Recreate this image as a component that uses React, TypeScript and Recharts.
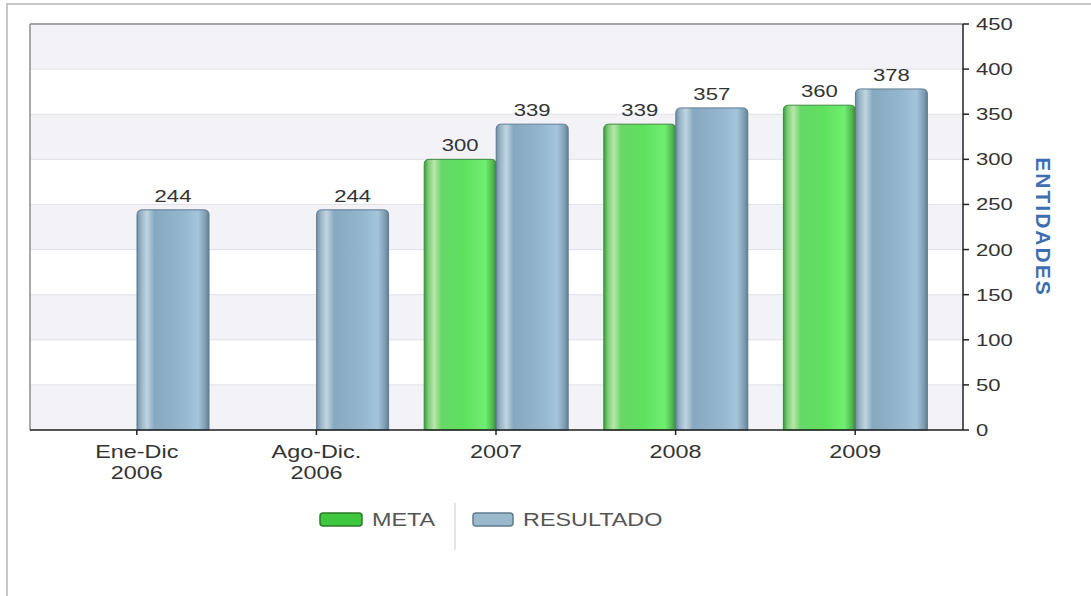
import React from 'react';
import { BarChart, Bar, XAxis, YAxis, CartesianGrid, Legend, LabelList, ReferenceLine } from 'recharts';

const categories = ['Ene-Dic\n2006', 'Ago-Dic.\n2006', '2007', '2008', '2009'];
const metaValues: (number | null)[] = [null, null, 300, 339, 360];
const resultadoValues = [244, 244, 339, 357, 378];
const yTicks = [0, 50, 100, 150, 200, 250, 300, 350, 400, 450];
const seriesNames = { meta: 'META', resultado: 'RESULTADO' };

const data = categories.map((c, i) => ({ category: c, meta: metaValues[i], resultado: resultadoValues[i] }));

const FONT = '"Liberation Sans", Arial, sans-serif';
const SX = 1.3;

const SText = ({ x, y, children, sx = SX, ...rest }: any) => (
  <g transform={`translate(${x},${y}) scale(${sx},1)`}>
    <text x={0} y={0} fontFamily={FONT} {...rest}>{children}</text>
  </g>
);

const makeShape = (gradId: string, stroke: string) => (props: any) => {
  const { x, y, width, height } = props;
  if (height == null || !(height > 0)) return null;
  const r = 5;
  const d = `M${x},${y + height} L${x},${y + r} Q${x},${y} ${x + r},${y} L${x + width - r},${y} Q${x + width},${y} ${x + width},${y + r} L${x + width},${y + height} Z`;
  return <path d={d} fill={`url(#${gradId})`} stroke={stroke} strokeWidth={1} />;
};

const GreenShape = makeShape('gradGreen', '#3d8a3d');
const BlueShape = makeShape('gradBlue', '#5f7b90');

const ValueLabel = (props: any) => {
  const { x, y, width, value } = props;
  if (value == null) return null;
  return (
    <SText x={x + width / 2} y={y - 8} textAnchor="middle" fontSize={17} fill="#333">
      {value}
    </SText>
  );
};

const XTick = (props: any) => {
  const { x, y, payload } = props;
  const lines = String(payload.value).split('\n');
  return (
    <g>
      {lines.map((l, i) => (
        <SText key={i} x={x} y={y + 21 + i * 21} textAnchor="middle" fontSize={18} fill="#333">
          {l}
        </SText>
      ))}
    </g>
  );
};

const YTick = (props: any) => {
  const { x, y, payload } = props;
  return (
    <SText x={x + 5} y={y + 6} textAnchor="start" fontSize={17} fill="#333">
      {payload.value}
    </SText>
  );
};

const AxisTitle = (props: any) => {
  const vb = props.viewBox || {};
  const cx = vb.x + 80;
  const cy = vb.y + vb.height / 2;
  return (
    <text
      x={cx}
      y={cy}
      transform={`rotate(90, ${cx}, ${cy})`}
      textAnchor="middle"
      dominantBaseline="central"
      fontFamily={FONT}
      fontWeight="bold"
      fontSize={21}
      letterSpacing={2}
      fill="#3d6fae"
    >
      ENTIDADES
    </text>
  );
};

const LegendContent = () => (
  <svg width={1091} height={70} style={{ display: 'block' }}>
    <rect x={320} y={23} width={42} height={13} rx={3} fill="#3fc73f" stroke="#2b7a2b" strokeWidth={1.5} />
    <SText x={372} y={36} fontSize={18} fill="#555">{seriesNames.meta}</SText>
    <line x1={455} x2={455} y1={13} y2={60} stroke="#dcdcdc" strokeWidth={1.5} />
    <rect x={473} y={23} width={40} height={13} rx={3} fill="#9cb9cc" stroke="#5f7b8d" strokeWidth={1.5} />
    <SText x={523} y={36} fontSize={18} fill="#555">{seriesNames.resultado}</SText>
  </svg>
);

export default function App() {
  return (
    <div style={{ position: 'absolute', left: 0, top: 0, width: 1091, height: 596, background: '#fff', overflow: 'hidden' }}>
      <div style={{ position: 'absolute', left: 6, top: 3, width: 1200, height: 700, borderLeft: '2px solid #c8c8c8', borderTop: '2px solid #c8c8c8' }} />
      <div style={{ position: 'absolute', left: 0, top: 0 }}>
        <BarChart
          width={1091}
          height={596}
          data={data}
          margin={{ top: 24, left: 30, right: 48, bottom: 116 }}
          barGap={0}
          barSize={72}
        >
          <defs>
            <linearGradient id="gradGreen" x1="0" y1="0" x2="1" y2="0">
              <stop offset="0%" stopColor="#3f9a3f" />
              <stop offset="6%" stopColor="#7fcf7a" />
              <stop offset="14%" stopColor="#b9e6a9" />
              <stop offset="24%" stopColor="#67d767" />
              <stop offset="55%" stopColor="#5fe05f" />
              <stop offset="85%" stopColor="#70ee70" />
              <stop offset="95%" stopColor="#4fb84f" />
              <stop offset="100%" stopColor="#3a8a3a" />
            </linearGradient>
            <linearGradient id="gradBlue" x1="0" y1="0" x2="1" y2="0">
              <stop offset="0%" stopColor="#6f8ea4" />
              <stop offset="6%" stopColor="#9bb6c8" />
              <stop offset="14%" stopColor="#c0d5e1" />
              <stop offset="24%" stopColor="#87a9c0" />
              <stop offset="60%" stopColor="#93b6cd" />
              <stop offset="85%" stopColor="#a3c4da" />
              <stop offset="95%" stopColor="#7f9db2" />
              <stop offset="100%" stopColor="#607d92" />
            </linearGradient>
          </defs>
          <CartesianGrid
            vertical={false}
            stroke="#e0e0e6"
            horizontalFill={['#f3f3f7', '#ffffff']}
          />
          <CartesianGrid horizontal={false} vertical verticalPoints={[30]} stroke="#8c8c8c" strokeWidth={1.5} />
          <ReferenceLine y={450} stroke="#8c8c8c" strokeWidth={1.5} />
          <XAxis
            dataKey="category"
            height={50}
            interval={0}
            padding={{ left: 17, right: 18 }}
            axisLine={{ stroke: '#222', strokeWidth: 1.5 }}
            tickLine={{ stroke: '#222', strokeWidth: 1.5 }}
            tickSize={5}
            tick={<XTick />}
          />
          <YAxis
            orientation="right"
            domain={[0, 450]}
            ticks={yTicks}
            width={80}
            axisLine={{ stroke: '#222', strokeWidth: 1.5 }}
            tickLine={{ stroke: '#222', strokeWidth: 1.5 }}
            tickSize={6}
            tick={<YTick />}
            label={{ content: <AxisTitle /> }}
          />
          <Legend
            layout="vertical"
            align="center"
            verticalAlign="middle"
            content={<LegendContent />}
            wrapperStyle={{ top: 490, left: 0, width: 1091, height: 70 }}
          />
          <Bar dataKey="meta" name={seriesNames.meta} fill="#5fe05f" shape={GreenShape} isAnimationActive={false}>
            <LabelList dataKey="meta" content={<ValueLabel />} />
          </Bar>
          <Bar dataKey="resultado" name={seriesNames.resultado} fill="#93b6cd" shape={BlueShape} isAnimationActive={false}>
            <LabelList dataKey="resultado" content={<ValueLabel />} />
          </Bar>
        </BarChart>
      </div>
    </div>
  );
}
